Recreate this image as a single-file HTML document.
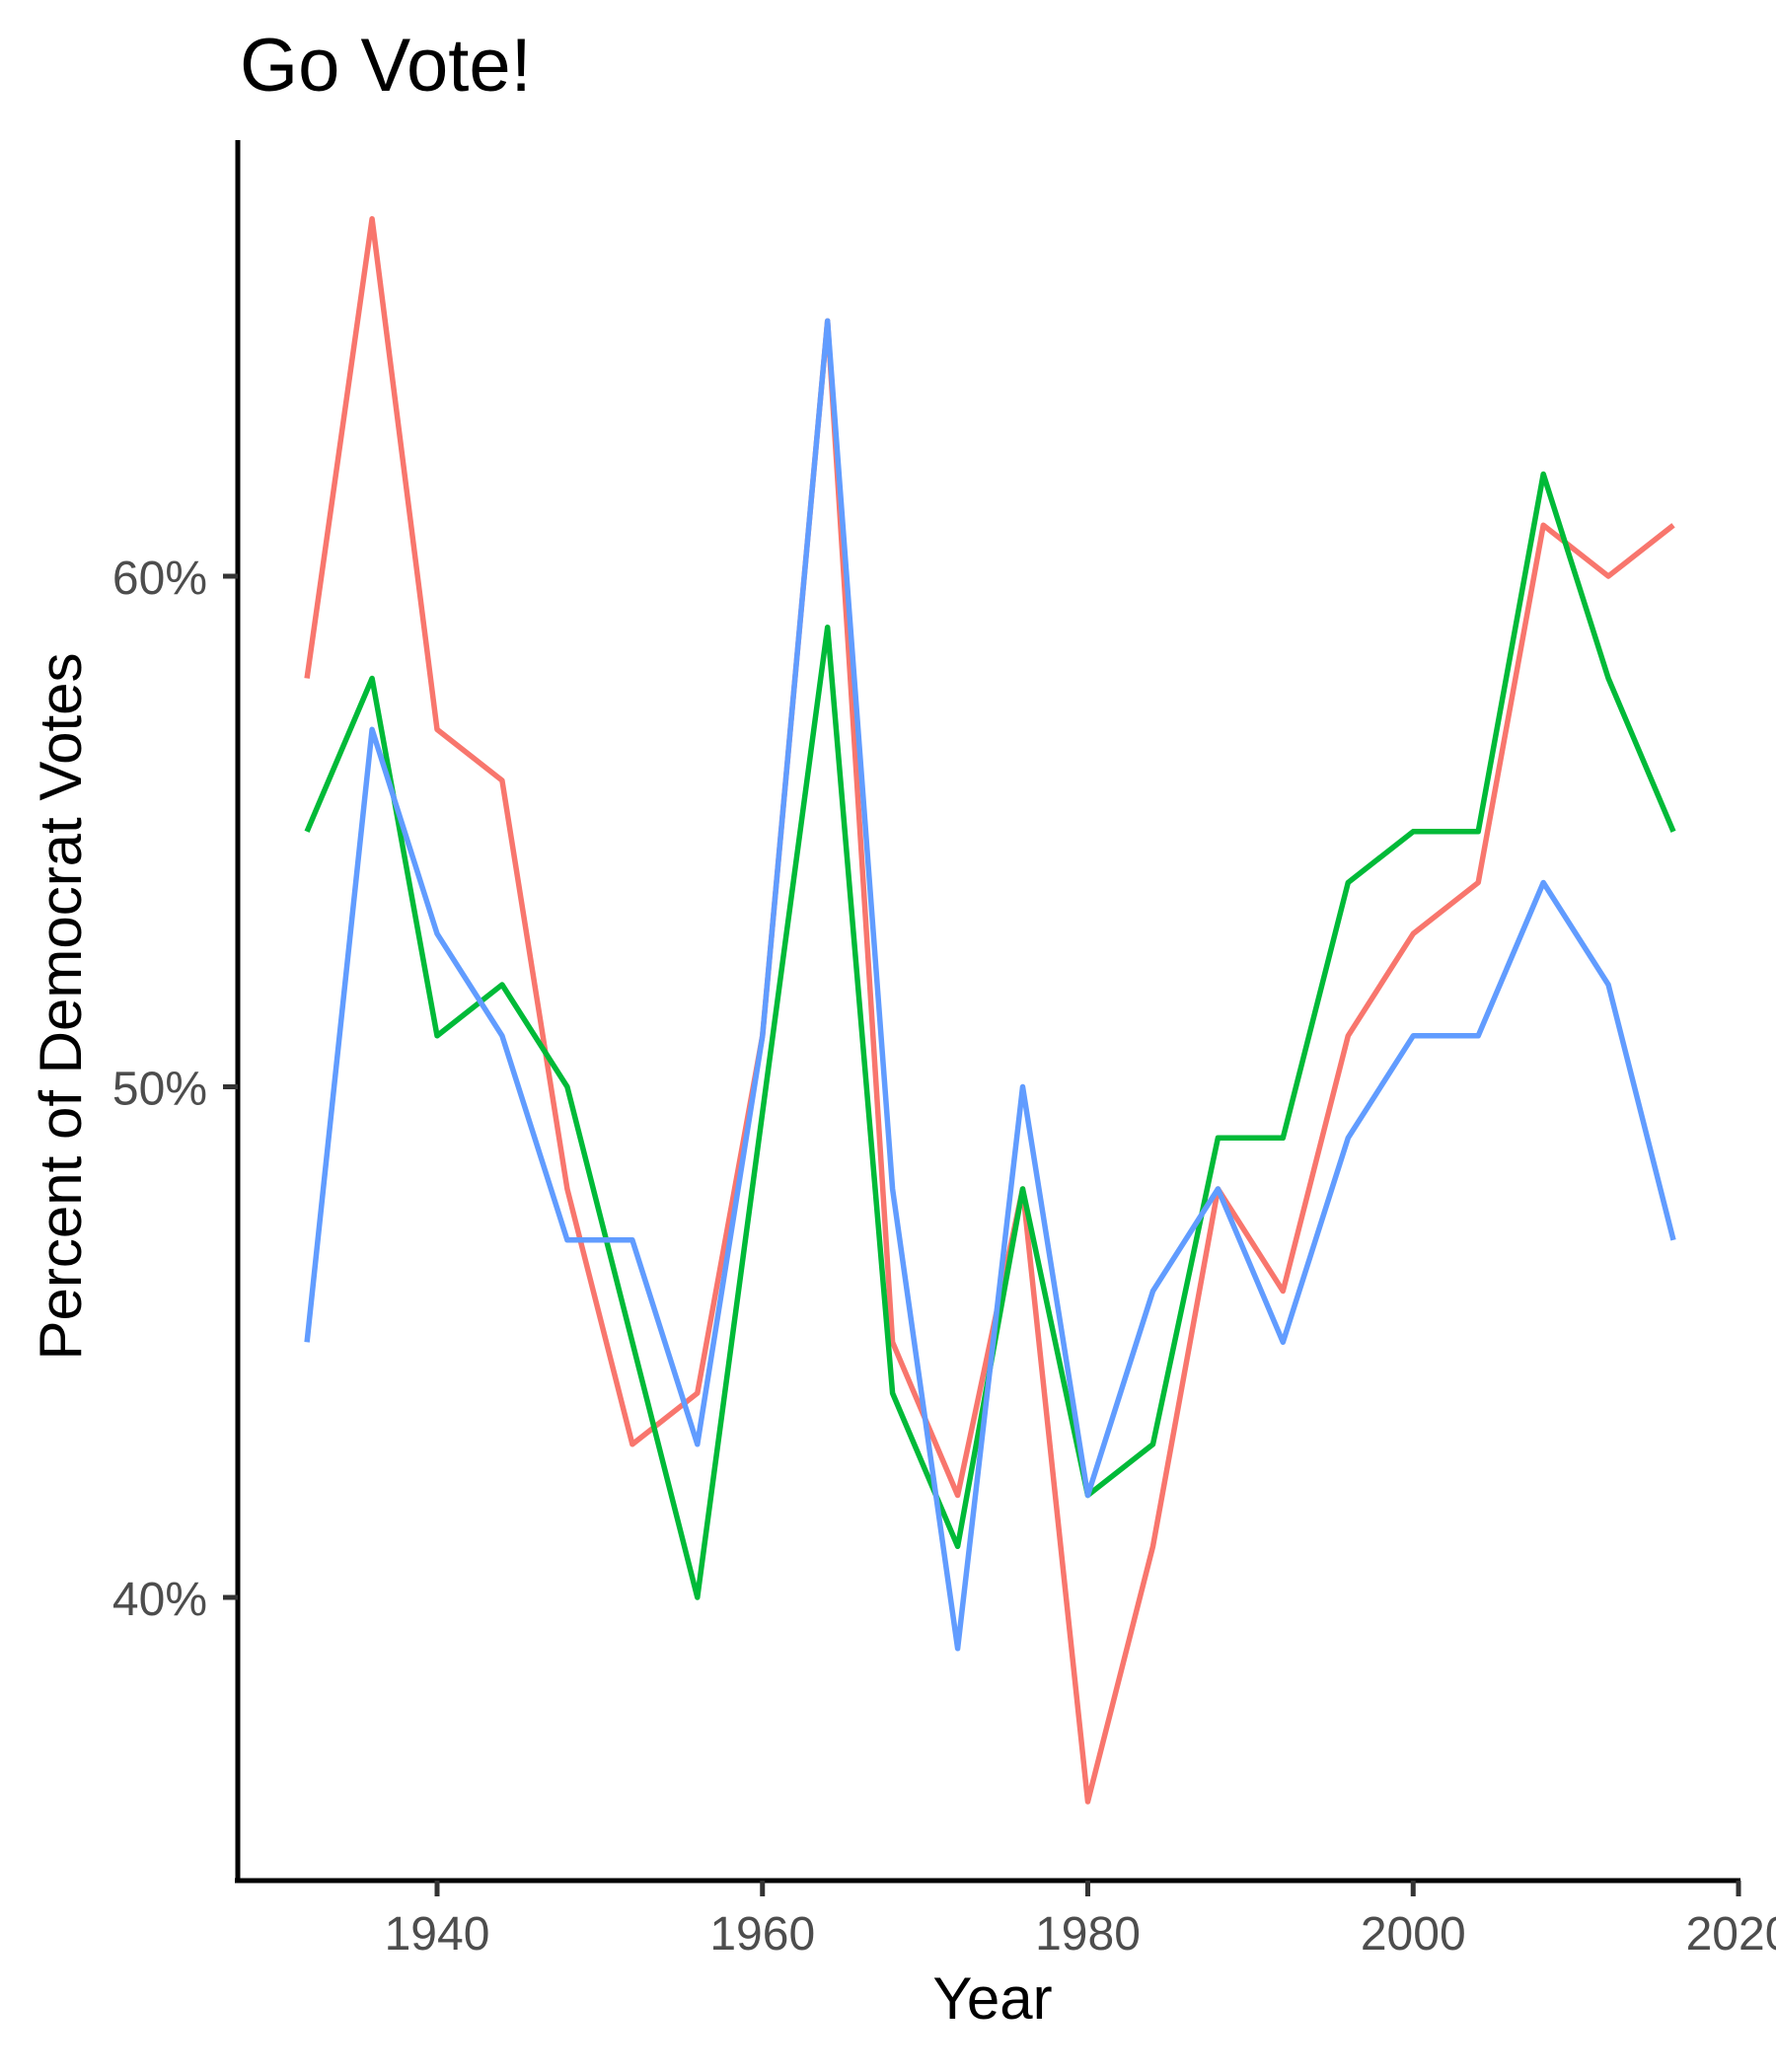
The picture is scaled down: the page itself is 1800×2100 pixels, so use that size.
<!DOCTYPE html>
<html><head><meta charset="utf-8"><style>
html,body{margin:0;padding:0;background:#fff;}
svg{display:block;font-family:"Liberation Sans",sans-serif;}
</style></head><body>
<svg id="chart" width="1800" height="2100" viewBox="0 0 1800 2100">
<text x="243" y="92" font-size="76" fill="#000">Go Vote!</text>
<g id="plot"></g>
<line x1="241" y1="142" x2="241" y2="1908" stroke="#000" stroke-width="5"/>
<line x1="238" y1="1906" x2="1764" y2="1906" stroke="#000" stroke-width="5"/>
<g id="yticks"></g>
<g id="xticks"></g>
<text x="1006" y="2046" font-size="60" text-anchor="middle" fill="#000">Year</text>
<text transform="translate(82,1020) rotate(-90)" font-size="60" text-anchor="middle" fill="#000">Percent of Democrat Votes</text>
</svg>
<script>
const years = [1932,1936,1940,1944,1948,1952,1956,1960,1964,1968,1972,1976,1980,1984,1988,1992,1996,2000,2004,2008,2012,2016];
const redSeries = [58,67,57,56,48,43,44,51,65,45,42,48,36,41,48,46,51,53,54,61,60,61];
const greenSeries = [55,58,51,52,50,45,40,49.5,59,44,41,48,42,43,49,49,54,55,55,62,58,55];
const blueSeries = [45,57,53,51,47,47,43,51,65,48,39,50,42,46,48,45,49,51,51,54,52,47];
const xTickValues = [1940,1960,1980,2000,2020];
const yTickValues = [40,50,60];

const NS = "http://www.w3.org/2000/svg";
function xs(y){ return 443 + (y - 1940) * (1762 - 443) / 80; }
function ys(p){ return 584 + (60 - p) * (1619 - 584) / 20; }

const plot = document.getElementById('plot');
const series = [
  {vals: redSeries, color: '#F8766D', name: 'line-series-red'},
  {vals: greenSeries, color: '#00BA38', name: 'line-series-green'},
  {vals: blueSeries, color: '#619CFF', name: 'line-series-blue'}
];
series.forEach(s => {
  const pl = document.createElementNS(NS, 'polyline');
  pl.setAttribute('points', s.vals.map((v, i) => xs(years[i]).toFixed(1) + ',' + ys(v).toFixed(1)).join(' '));
  pl.setAttribute('fill', 'none');
  pl.setAttribute('stroke', s.color);
  pl.setAttribute('stroke-width', '5.5');
  pl.setAttribute('stroke-linejoin', 'round');
  
  
  plot.appendChild(pl);
});

const yt = document.getElementById('yticks');
yTickValues.forEach(v => {
  const y = ys(v);
  const l = document.createElementNS(NS, 'line');
  l.setAttribute('x1', 226); l.setAttribute('x2', 241);
  l.setAttribute('y1', y); l.setAttribute('y2', y);
  l.setAttribute('stroke', '#333'); l.setAttribute('stroke-width', '5');
  
  
  yt.appendChild(l);
  const t = document.createElementNS(NS, 'text');
  t.setAttribute('x', 210); t.setAttribute('y', y + 18);
  t.setAttribute('text-anchor', 'end'); t.setAttribute('font-size', '48'); t.setAttribute('fill', '#4d4d4d');
  t.textContent = v + '%';
  
  
  yt.appendChild(t);
});
const xt = document.getElementById('xticks');
xTickValues.forEach(v => {
  const x = xs(v);
  const l = document.createElementNS(NS, 'line');
  l.setAttribute('x1', x); l.setAttribute('x2', x);
  l.setAttribute('y1', 1906); l.setAttribute('y2', 1922);
  l.setAttribute('stroke', '#333'); l.setAttribute('stroke-width', '5');
  
  
  xt.appendChild(l);
  const t = document.createElementNS(NS, 'text');
  t.setAttribute('x', x); t.setAttribute('y', 1976);
  t.setAttribute('text-anchor', 'middle'); t.setAttribute('font-size', '48'); t.setAttribute('fill', '#4d4d4d');
  t.textContent = v;
  
  
  xt.appendChild(t);
});
</script>
</body></html>
